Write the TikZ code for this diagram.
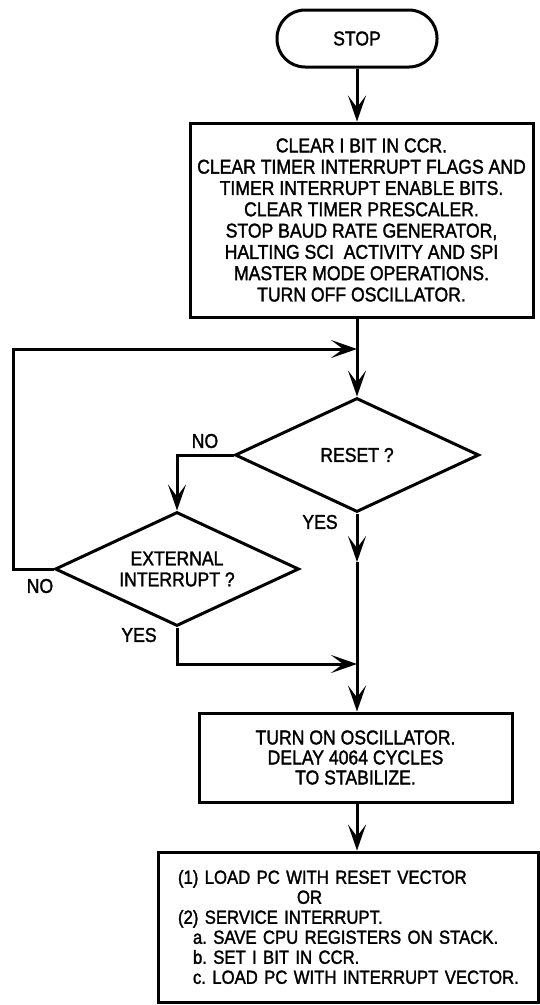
\documentclass[tikz,border=0pt]{standalone}
\usepackage{fontspec}
\setmainfont{Liberation Sans}[FakeStretch=0.88,FakeBold=1.6]
\frenchspacing
\usetikzlibrary{arrows.meta,shapes.geometric}
\begin{document}
\begin{tikzpicture}[x=1pt,y=-1pt,
  every node/.style={font=\fontsize{20}{20}\selectfont},
  line/.style={line width=3pt},
  arr/.style={line width=3pt,-{Stealth[length=26pt,width=18pt,inset=12pt]}},
  term/.style={draw,line width=3pt,rounded corners=28pt,minimum width=160pt,minimum height=57pt,inner sep=0pt},
  procbox/.style={draw,line width=3pt,rectangle,align=center,inner sep=0pt},
  decision/.style={draw,line width=3pt,diamond,aspect=2.14,inner sep=0pt,minimum width=244pt,minimum height=114pt,align=center},
  lbl/.style={inner sep=0pt}]
\useasboundingbox (0,0) rectangle (540,1005);

\node[term] (stop) at (357,38.5) {STOP};
\node[procbox,minimum width=343pt,minimum height=194pt,font=\fontsize{20}{21.3}\selectfont] (main) at (361.5,220)
 {CLEAR I BIT IN CCR.\\
  CLEAR TIMER INTERRUPT FLAGS AND\\
  TIMER INTERRUPT ENABLE BITS.\\
  CLEAR TIMER PRESCALER.\\
  STOP BAUD RATE GENERATOR,\\
  HALTING SCI\ \ ACTIVITY AND SPI\\
  MASTER MODE OPERATIONS.\\
  TURN OFF OSCILLATOR.};
\node[decision] (reset) at (357,455) {RESET ?};
\node[decision,font=\fontsize{20}{21}\selectfont] (ext) at (177,569) {EXTERNAL\\INTERRUPT ?};
\node[procbox,minimum width=313pt,minimum height=89pt] (on) at (355.5,757.5)
 {TURN ON OSCILLATOR.\\DELAY 4064 CYCLES\\TO STABILIZE.};
\node[procbox,align=left,text width=340pt,inner xsep=20pt,minimum height=150pt,font=\fontsize{19}{20}\selectfont] (final) at (348,927)
 {\mbox{(1) LOAD PC WITH RESET VECTOR}\\
  \mbox{\hspace*{119pt}OR}\\
  \mbox{(2) SERVICE INTERRUPT.}\\
  \mbox{\hspace*{15pt}a. SAVE CPU REGISTERS ON STACK.}\\
  \mbox{\hspace*{15pt}b. SET I BIT IN CCR.}\\
  \mbox{\hspace*{15pt}c. LOAD PC WITH INTERRUPT VECTOR.}};

\node[lbl] (noR) at (205,441) {NO};
\node[lbl] (yesR) at (320,522) {YES};
\node[lbl] (noE) at (40,586) {NO};
\node[lbl] (yesE) at (139,635) {YES};

\coordinate (loopj) at (357,349);
\coordinate (loopBL) at (13,569);
\coordinate (loopTL) at (13,349);
\coordinate (midR) at (357,562);
\coordinate (join) at (357,664);

\draw[arr] (stop.south) -- (stop.south |- main.north);
\draw[line] (stop.south |- main.south) -- (loopj);
\draw[arr] (loopj) -- (reset.north);
\draw[arr] (reset.west) -- (ext.north |- reset.west) -- (ext.north);
\draw[arr] (ext.west) -- (loopBL) -- (loopTL) -- (loopj);
\draw[arr] (reset.south) -- (midR);
\draw[line] (midR) -- (join);
\draw[arr] (ext.south) -- (ext.south |- join) -- (join);
\draw[arr] (join) -- (join |- on.north);
\draw[arr] (on.south -| join) -- (join |- final.north);
\end{tikzpicture}
\end{document}
